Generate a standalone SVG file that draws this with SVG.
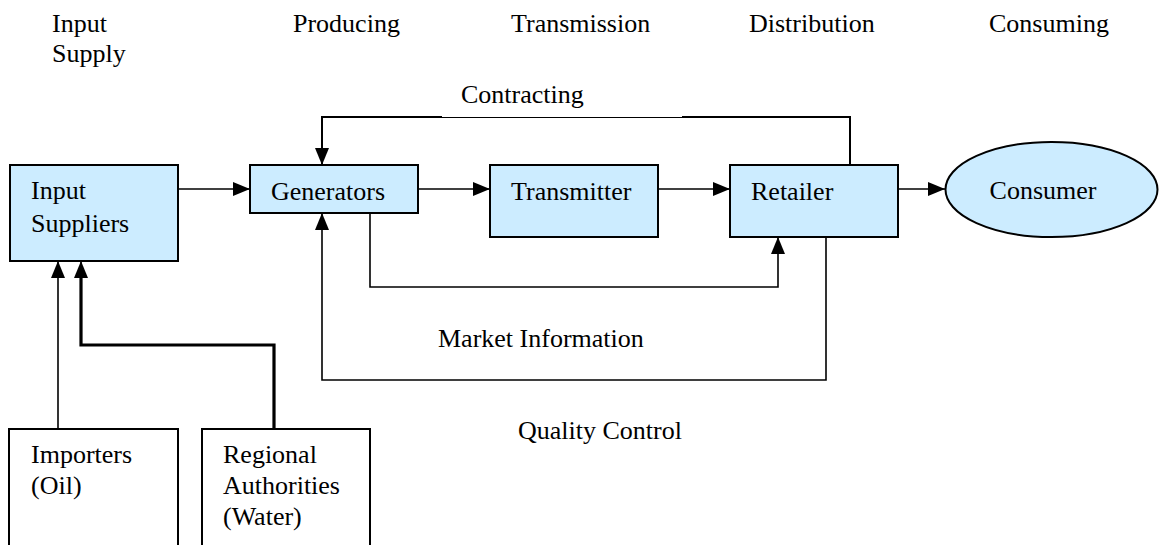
<svg xmlns="http://www.w3.org/2000/svg" width="1159" height="545" viewBox="0 0 1159 545">
  <style>
    text { font-family: "Liberation Serif", "Times New Roman", serif; font-size: 26px; fill: #000; }
    .box { fill: #CCECFF; stroke: #000; stroke-width: 2; }
    .plain { fill: #fff; stroke: #000; stroke-width: 2; }
    .link { fill: none; stroke: #000; stroke-width: 1.6; }
    .heavy { fill: none; stroke: #000; stroke-width: 3.2; }
  </style>
  <defs>
    <marker id="arrow" markerUnits="userSpaceOnUse" markerWidth="17" markerHeight="14" refX="17" refY="7" orient="auto">
      <path d="M0,0 L17,7 L0,14 z" fill="#000"/>
    </marker>
  </defs>
  <rect width="1159" height="545" fill="#fff"/>

  <!-- stage headings -->
  <g id="headings">
    <text x="52" y="32">Input</text>
    <text x="52" y="62">Supply</text>
    <text x="293" y="32">Producing</text>
    <text x="511" y="32">Transmission</text>
    <text x="749" y="32">Distribution</text>
    <text x="989" y="32">Consuming</text>
  </g>

  <!-- connectors -->
  <g id="connectors">
    <line class="link" x1="178" y1="189" x2="250" y2="189" marker-end="url(#arrow)"/>
    <line class="link" x1="418" y1="189" x2="490" y2="189" marker-end="url(#arrow)"/>
    <line class="link" x1="658" y1="189" x2="730" y2="189" marker-end="url(#arrow)"/>
    <line class="link" x1="898" y1="189" x2="945" y2="189" marker-end="url(#arrow)"/>

    <!-- contracting loop: retailer back to generators -->
    <polyline class="link" points="850,165 850,117 682,117" style="stroke-width:2"/>
    <line x1="682" y1="117.5" x2="442" y2="117.5" stroke="#000" stroke-width="1"/>
    <polyline class="link" points="442,117 322,117 322,165" style="stroke-width:2" marker-end="url(#arrow)"/>

    <!-- market information: two-way between generators and retailer -->
    <polyline class="link" points="370,213 370,287 778,287 778,237" marker-start="url(#arrow)" marker-end="url(#arrow)"/>

    <!-- quality control: retailer back to generators -->
    <polyline class="link" points="826,237 826,380 322,380 322,213" marker-end="url(#arrow)"/>

    <!-- suppliers feeding input suppliers -->
    <line class="link" x1="58" y1="429" x2="58" y2="261" marker-end="url(#arrow)"/>
    <polyline class="heavy" points="274,429 274,345 81,345 81,275"/>
    <line class="link" x1="81" y1="276" x2="81" y2="261" marker-end="url(#arrow)"/>
  </g>

  <g id="input-suppliers">
    <rect class="box" x="10" y="165" width="168" height="96"/>
    <text x="31" y="199">Input</text>
    <text x="31" y="232">Suppliers</text>
  </g>

  <g id="generators">
    <rect class="box" x="250" y="165" width="168" height="48"/>
    <text x="271" y="200">Generators</text>
  </g>

  <g id="transmitter">
    <rect class="box" x="490" y="165" width="168" height="72"/>
    <text x="511" y="200">Transmitter</text>
  </g>

  <g id="retailer">
    <rect class="box" x="730" y="165" width="168" height="72"/>
    <text x="751" y="200">Retailer</text>
  </g>

  <g id="consumer">
    <ellipse class="box" cx="1051.5" cy="189.5" rx="106" ry="47.5"/>
    <text x="1043" y="199" text-anchor="middle">Consumer</text>
  </g>

  <g id="importers">
    <rect class="plain" x="9" y="429" width="169" height="130"/>
    <text x="31" y="463">Importers</text>
    <text x="31" y="494">(Oil)</text>
  </g>

  <g id="regional-authorities">
    <rect class="plain" x="202" y="429" width="168" height="130"/>
    <text x="223" y="463">Regional</text>
    <text x="223" y="494">Authorities</text>
    <text x="223" y="525">(Water)</text>
  </g>

  <!-- loop labels -->
  <g id="labels">
    <text x="461" y="103">Contracting</text>
    <text x="438" y="347">Market Information</text>
    <text x="518" y="439">Quality Control</text>
  </g>
</svg>
